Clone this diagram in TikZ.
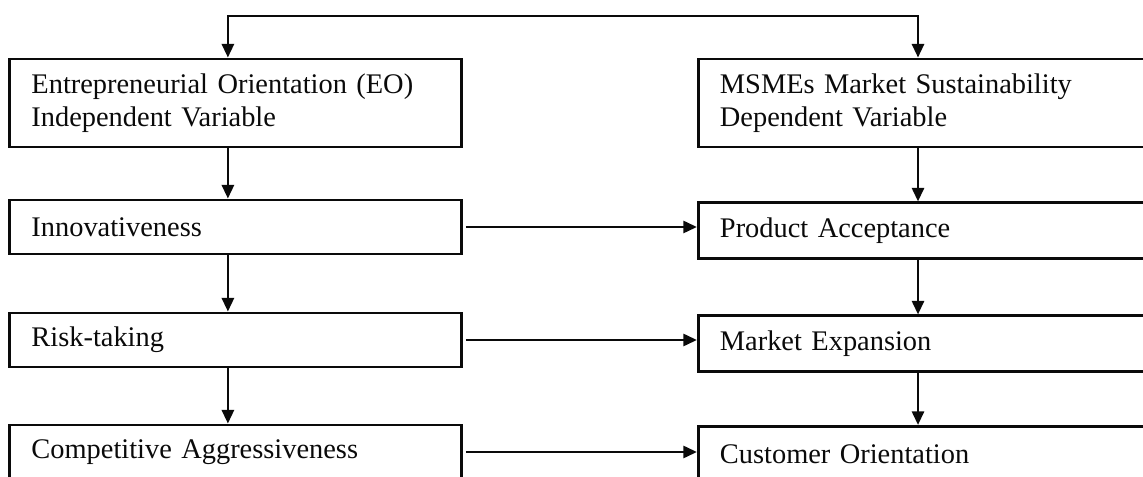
\documentclass[tikz,border=0pt]{standalone}
\usepackage{fontspec}
\setmainfont{Liberation Serif}
\usetikzlibrary{arrows.meta,positioning,calc}
\definecolor{ink}{RGB}{10,10,10}
\tikzset{
  >={Triangle[length=3.4mm,width=3mm]},
  box/.style={draw=ink,line width=2pt,minimum width=11.28cm,minimum height=#1,
    text width=10.2cm,inner xsep=0.53cm,align=left,
    font=\fontsize{20.2}{23.5}\selectfont,text=ink},
  box/.default=1.35cm,
  flow/.style={->,line width=1.9pt,draw=ink},
}

\begin{document}
\begin{tikzpicture}[x=0.025cm,y=-0.025cm]
    \useasboundingbox (0,0) rectangle (1143,477);
    \clip (0,0) rectangle (1143,477);
    % independent variable side
    \node[box=2.2cm] (eo) at (235.5,103) {Entrepreneurial Orientation (EO)\\Independent Variable};
    \node[box] (inno) at (235.5,227) {Innovativeness};
    \node[box] (risk) at (235.5,340) {Risk-taking};
    \node[box] (comp) at (235.5,452) {Competitive Aggressiveness};
    % dependent variable side
    \node[box=2.2cm] (msme) at (924,103) {MSMEs Market Sustainability\\Dependent Variable};
    \node[box=1.38cm] (prod) at (924,230.5) {Product Acceptance};
    \node[box=1.38cm] (mexp) at (924,343.5) {Market Expansion};
    \node[box=1.38cm] (cust) at (924,454) {Customer Orientation};
    % top link
    \coordinate (top) at (573,16);
    \draw[flow,<->] ([xshift=-0.19cm]eo.north) |- (top) -| ([xshift=-0.15cm]msme.north);
    % downward chains
    \foreach \a/\b in {eo/inno,inno/risk,risk/comp}
      \draw[flow] ([xshift=-0.19cm]\a.south) -- ([xshift=-0.19cm]\b.north);
    \foreach \a/\b in {msme/prod,prod/mexp,mexp/cust}
      \draw[flow] ([xshift=-0.15cm]\a.south) -- ([xshift=-0.15cm]\b.north);
    % across
    \foreach \a/\b in {inno/prod,risk/mexp,comp/cust}
      \draw[flow,shorten <=0.08cm] (\a.east) -- (\b.west |- \a.east);
\end{tikzpicture}
\end{document}
